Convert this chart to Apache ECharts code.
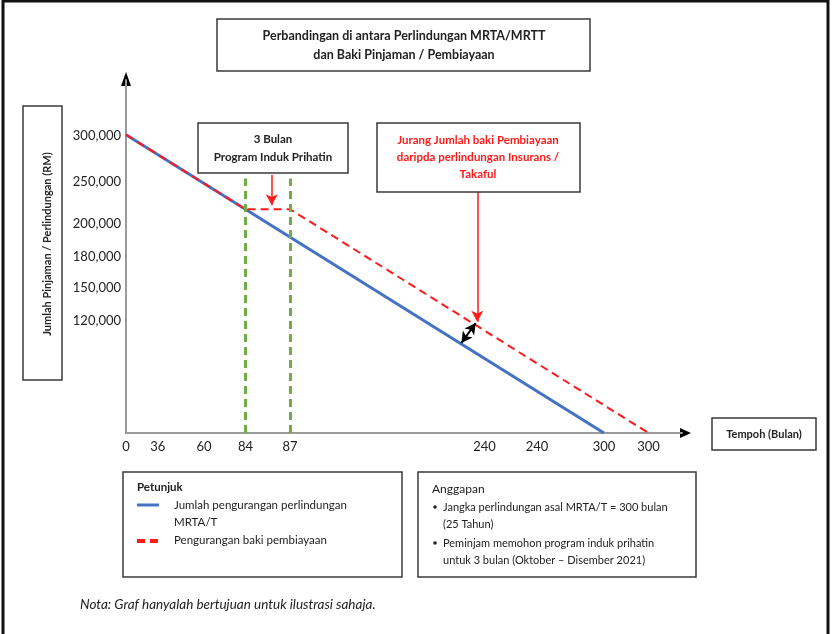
<!DOCTYPE html>
<html>
<head>
<meta charset="utf-8">
<title>Perbandingan MRTA/MRTT</title>
<script src="https://cdn.jsdelivr.net/npm/echarts@6/dist/echarts.min.js"></script>
<style>
  html, body { margin: 0; padding: 0; background: #fff; }
  #chart { width: 833px; height: 634px; }
</style>
</head>
<body>
<div id="chart"></div>
<script>
// schematic x units (illustration only, not to scale)
const xLabelText = ['0', '36', '60', '84', '87', '240', '240', '300', '300']
const xLabelAt = [0, 20, 49, 75, 103, 225, 258, 300, 328]
const yLabelText = ['300,000', '250,000', '200,000', '180,000', '150,000', '120,000']
const yLabelAt = [299000, 253000, 210500, 177000, 146000, 112500]

// blue: perlindungan MRTA/T
const coverX = [0, 300]
const coverY = [300000, 0]
// red: baki pembiayaan (flat during 3 bulan prihatin)
const balanceX = [0, 75, 103, 328]
const balanceY = [300000, 225000, 225000, 0]
// green: 3 bulan program window
const windowX = [75, 103]
const windowTop = 256000

// annotation arrows [x0, y0, x1, y1]
const arrowProgram = [91.5, 259500, 91.5, 229000]
const arrowGap = [220.5, 242500, 220.5, 112000]
const gapMeasure = [210.5, 90500, 219.5, 110500]

const FONT = 'Lato, "Open Sans", sans-serif'
const INK = '#222'

const chart = echarts.init(document.getElementById('chart'))

const box = (x, y, w, h) => ({
  type: 'rect', shape: { x, y, width: w, height: h },
  style: { fill: '#fff', stroke: '#3a3a3a', lineWidth: 1.5 }, z: 10,
})
const txt = (x, y, text, opt = {}, extra = {}) => Object.assign({
  type: 'text', x, y, z: 11,
  style: Object.assign({
    text, fill: INK, font: `bold 12px ${FONT}`,
    textAlign: 'center', textVerticalAlign: 'middle',
  }, opt),
}, extra)

const arrowLine = (a, sym, color, width) => ({
  type: 'line', data: [], silent: true,
  markLine: {
    silent: true, symbol: sym, symbolSize: [9, 11], label: { show: false },
    lineStyle: { color, width, type: 'solid' },
    data: [[{ coord: [a[0], a[1]] }, { coord: [a[2], a[3]] }]],
  },
})

chart.setOption({
  animation: false,
  backgroundColor: '#fff',
  grid: { left: 126, top: 80, right: 151, bottom: 201 },
  xAxis: {
    type: 'value', min: 0, max: 349,
    axisLine: { show: true, onZero: false, lineStyle: { color: '#9a9a9a', width: 2 } },
    axisTick: { show: false },
    splitLine: { show: false },
    axisLabel: {
      customValues: xLabelAt,
      formatter: v => xLabelText[xLabelAt.indexOf(v)],
      color: INK, fontFamily: FONT, fontSize: 13, margin: 7,
    },
  },
  yAxis: {
    type: 'value', min: 0, max: 355000,
    axisLine: { show: true, onZero: false, lineStyle: { color: '#9a9a9a', width: 2 } },
    axisTick: { show: false },
    splitLine: { show: false },
    axisLabel: {
      customValues: yLabelAt,
      formatter: v => yLabelText[yLabelAt.indexOf(v)],
      color: INK, fontFamily: FONT, fontSize: 13, margin: 5,
    },
  },
  series: [
    {
      type: 'line', silent: true, data: [],
      markLine: {
        silent: true, symbol: 'none', label: { show: false },
        lineStyle: { color: '#70ad47', width: 3, type: [8, 5] },
        data: windowX.map(x => [{ coord: [x, 0] }, { coord: [x, windowTop] }]),
      },
    },
    {
      name: 'Jumlah pengurangan perlindungan MRTA/T',
      type: 'line', symbol: 'none', silent: true,
      data: coverX.map((x, i) => [x, coverY[i]]),
      lineStyle: { color: '#4472c4', width: 3 },
    },
    {
      name: 'Pengurangan baki pembiayaan',
      type: 'line', symbol: 'none', silent: true,
      data: balanceX.map((x, i) => [x, balanceY[i]]),
      lineStyle: { color: '#ff1a1a', width: 2, type: [8, 5] },
    },
    arrowLine(arrowProgram, ['none', 'arrow'], '#ff1a1a', 1.5),
    arrowLine(arrowGap, ['none', 'arrow'], '#ff1a1a', 1.5),
    arrowLine(gapMeasure, ['arrow', 'arrow'], '#000', 2),
  ],
  graphic: [
    // outer frame
    { type: 'rect', shape: { x: 3, y: 1, width: 825, height: 640 },
      style: { fill: 'none', stroke: '#111', lineWidth: 3 } },
    // axis arrow heads
    { type: 'polygon', shape: { points: [[121, 86], [131, 86], [126, 72]] }, style: { fill: '#000' } },
    { type: 'polygon', shape: { points: [[680, 428], [680, 438], [691, 433]] }, style: { fill: '#000' } },

    box(217, 19, 373, 52),
    txt(404, 36, 'Perbandingan di antara Perlindungan MRTA/MRTT', { font: `bold 12.5px ${FONT}` }),
    txt(404, 55, 'dan Baki Pinjaman / Pembiayaan', { font: `bold 12.5px ${FONT}` }),

    box(23, 106, 39, 274),
    txt(47, 244, 'Jumlah Pinjaman / Perlindungan (RM)', { font: `bold 11px ${FONT}` },
      { rotation: Math.PI / 2 }),

    box(198, 123, 150, 50),
    txt(273, 139, '3 Bulan', { font: `bold 11.5px ${FONT}` }),
    txt(273, 157, 'Program Induk Prihatin', { font: `bold 11.5px ${FONT}` }),

    box(377, 123, 203, 69),
    txt(478, 140, 'Jurang Jumlah baki Pembiayaan', { fill: '#ff1a1a', font: `bold 11.5px ${FONT}` }),
    txt(478, 157, 'daripda perlindungan Insurans /', { fill: '#ff1a1a', font: `bold 11.5px ${FONT}` }),
    txt(478, 174, 'Takaful', { fill: '#ff1a1a', font: `bold 11.5px ${FONT}` }),

    box(712, 418, 104, 32),
    txt(764, 434, 'Tempoh (Bulan)', { font: `bold 11px ${FONT}` }),

    // legend (Petunjuk)
    box(123, 472, 279, 105),
    txt(137, 487, 'Petunjuk', { textAlign: 'left', font: `bold 11.5px ${FONT}` }),
    { type: 'line', shape: { x1: 137, y1: 505, x2: 159, y2: 505 }, z: 11,
      style: { stroke: '#4472c4', lineWidth: 3 } },
    txt(174, 505, 'Jumlah pengurangan perlindungan', { textAlign: 'left', font: `11.5px ${FONT}` }),
    txt(174, 522, 'MRTA/T', { textAlign: 'left', font: `11.5px ${FONT}` }),
    { type: 'line', shape: { x1: 137, y1: 541, x2: 160, y2: 541 }, z: 11,
      style: { stroke: '#ff1a1a', lineWidth: 4, lineDash: [8, 5] } },
    txt(174, 540, 'Pengurangan baki pembiayaan', { textAlign: 'left', font: `11.5px ${FONT}` }),

    // assumptions (Anggapan)
    box(418, 472, 278, 105),
    txt(432, 489, 'Anggapan', { textAlign: 'left', font: `12px ${FONT}` }),
    { type: 'circle', shape: { cx: 435, cy: 507, r: 1.8 }, z: 11, style: { fill: INK } },
    txt(443, 507, 'Jangka perlindungan asal MRTA/T = 300 bulan', { textAlign: 'left', font: `11px ${FONT}` }),
    txt(443, 524, '(25 Tahun)', { textAlign: 'left', font: `11px ${FONT}` }),
    { type: 'circle', shape: { cx: 435, cy: 543, r: 1.8 }, z: 11, style: { fill: INK } },
    txt(443, 543, 'Peminjam memohon program induk prihatin', { textAlign: 'left', font: `11px ${FONT}` }),
    txt(443, 560, 'untuk 3 bulan (Oktober – Disember 2021)', { textAlign: 'left', font: `11px ${FONT}` }),

    txt(80, 605, 'Nota: Graf hanyalah bertujuan untuk ilustrasi sahaja.',
      { textAlign: 'left', font: `italic 13.5px ${FONT}` }),
  ],
})
</script>
</body>
</html>
